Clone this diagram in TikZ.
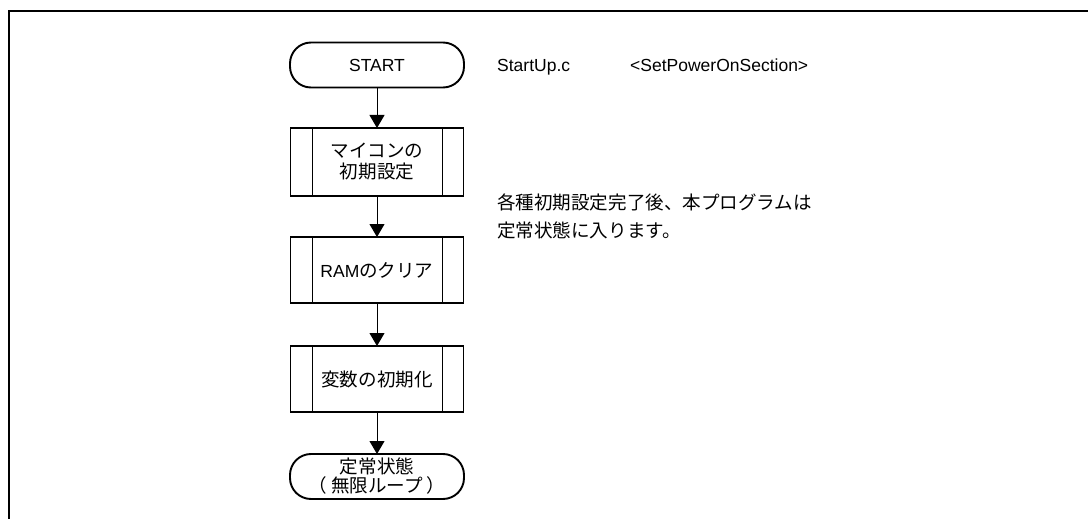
\documentclass[tikz,border=0pt]{standalone}
\usepackage{fontspec}
\setmainfont{Liberation Sans}
\newfontfamily\jp[Scale=1.06]{Noto Sans CJK JP}
\usetikzlibrary{arrows.meta}
\newcommand{\sz}[1]{\fontsize{17.5}{#1}\selectfont}

\begin{document}
\begin{tikzpicture}[x=1pt,y=-1pt,font=\sz{21},
  term/.style={draw, line width=1.9pt, rounded corners=21pt, minimum width=174pt,
    minimum height=45pt, inner sep=0pt, outer sep=0pt, align=center},
  subproc/.style={draw, line width=1.9pt, minimum width=173pt, minimum height=66pt,
    inner sep=0pt, outer sep=0pt, align=center, font=\sz{21}\jp},
  flow/.style={line width=1pt, -{Triangle[length=13pt,width=15pt]}}]

\useasboundingbox (0,0) rectangle (1088,519);
\draw[line width=2pt] (1088,11) -- (9,11) -- (9,519);

% flow chart
\node[term] (start) at (377,65) {START};
\node[subproc, minimum height=68pt] (init) at (377,162) {マイコンの\\初期設定};
\node[subproc] (ram) at (377,270) {{\rmfamily RAM}のクリア};
\node[subproc] (vars) at (377,379) {変数の初期化};
\node[term, font=\sz{19}\jp] (loop) at (377,476.5) {定常状態\\（\hspace{4pt}無限ループ\hspace{4pt}）};

\foreach \b in {init,ram,vars} {
  \draw[line width=1.9pt] ([xshift=22pt]\b.north west) -- ([xshift=22pt]\b.south west);
  \draw[line width=1.9pt] ([xshift=-21pt]\b.north east) -- ([xshift=-21pt]\b.south east);
}

\draw[flow] (start) -- (init);
\draw[flow] (init) -- (ram);
\draw[flow] (ram) -- (vars);
\draw[flow] (vars) -- (loop);

% notes
\node[anchor=base west, inner sep=0pt] (file) at (497,71.5) {StartUp.c};
\node[anchor=base west, inner sep=0pt] (sect) at (630,71.5) {<SetPowerOnSection>};
\node[anchor=west, inner sep=0pt, align=left, font=\sz{28}\jp] (note) at (497,216.7)
  {各種初期設定完了後、本プログラムは\\定常状態に入ります。};

\end{tikzpicture}
\end{document}
